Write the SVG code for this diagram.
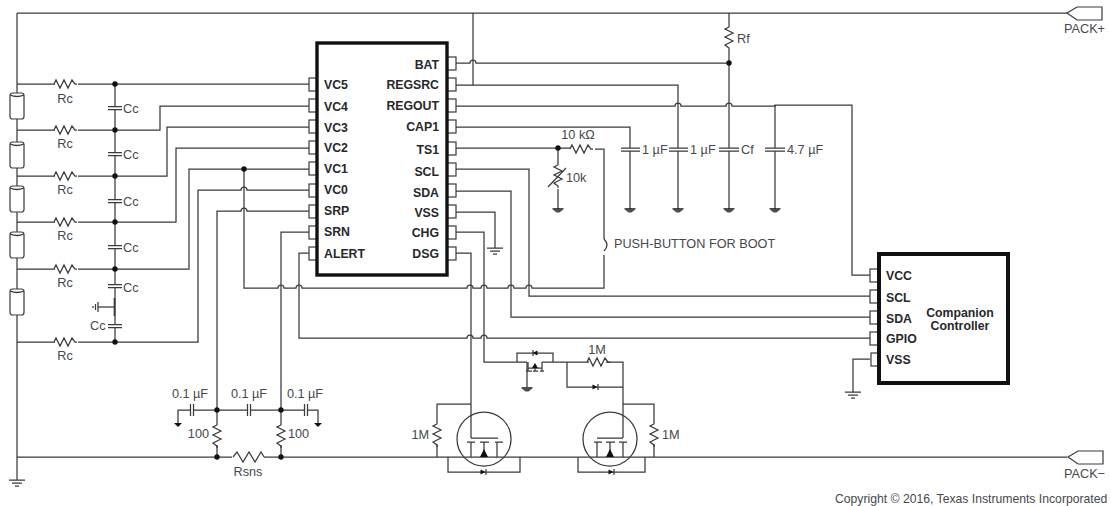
<svg xmlns="http://www.w3.org/2000/svg" width="1111" height="506" viewBox="0 0 1111 506">
<style>
text{font-family:"Liberation Sans",Arial,sans-serif;font-size:12.700px;fill:#45484c}
.b{font-weight:bold;font-size:12.300px;fill:#26282a}
.e{text-anchor:end}
.m{text-anchor:middle}
.w,.w path{fill:none;stroke:#3a3a3a;stroke-width:1.25}
.c{fill:none;stroke:#3a3a3a;stroke-width:1.25}
.f{fill:#111;stroke:none}
.pin{fill:#fff;stroke:#3a3a3a;stroke-width:1.2}
.box{fill:#fff;stroke:#111;stroke-width:3.4}
.gap{fill:#fff;stroke:none}
</style>
<defs>
<path id="rh" class="c" d="M0 0l2-4 4 8 4-8 4 8 4-8 3 4 2 0"/>
<path id="rv" class="c" d="M0 0l-4 2 8 4-8 4 8 4-8 4 4 3 0 2"/>
<circle id="dot" class="f" r="2.7"/>
<g id="cell"><rect class="pin" x="-7" y="0" width="14" height="26" rx="2.5"/><path class="c" d="M-7 2q7 3 14 0"/></g>
<g id="caph"><rect class="gap" x="-7" y="-1" width="14" height="3"/><path class="c" d="M-7 -1.500H7M-7 1.500H7"/></g>
<g id="capv"><rect class="gap" x="-1" y="-5" width="3" height="10"/><path class="c" d="M-1.500 -6V6M1.500 -6V6"/></g>
<g id="gnd3"><path class="c" d="M-8 0H8M-5 3H5M-2 6H2"/></g>
<polygon id="gnd" class="f" points="-5.500,0 5.500,0 5.500,1.200 1.500,4.500 -1.500,4.500 -5.500,1.200" fill-opacity=".75"/>
<polygon id="diode" class="f" points="-2.500,-2.500 2.500,0 -2.500,2.500"/>
<g id="pack"><polygon points="0,0 10,-6 35,-6 35,7 10,7" fill="#fff" stroke="#3a3a3a" stroke-width="1.2"/></g>
</defs>

<g id="connectors" class="w">
<path d="M17 13H1067"/>
<path d="M17 13V480"/>
<path d="M17 457H1067"/>
<path d="M17 84H55M78 84H309"/>
<path d="M17 130H55M78 130H160V106H309"/>
<path d="M17 176H55M78 176H167V127H309"/>
<path d="M17 222H55M78 222H176V148H309"/>
<path d="M17 269H55M78 269H189V169H309"/>
<path d="M17 342H55M78 342H198V190H241a3 3 0 0 1 6 0H309"/>
<path d="M115 84V342"/>
<path d="M98 307H114"/>
<path d="M309 211H247a3 3 0 0 0 -6 0H217V410"/>
<path d="M309 232H281V410"/>
<path d="M309 253H299V338H467a3 3 0 0 1 6 0H481a3 3 0 0 1 6 0H870"/>
<path d="M244 169V288H278a3 3 0 0 1 6 0H296a3 3 0 0 1 6 0H467a3 3 0 0 1 6 0H481a3 3 0 0 1 6 0H508a3 3 0 0 1 6 0H526a3 3 0 0 1 6 0H604V255"/>
<path d="M604 239V149H595"/>
<path d="M456 148H570"/>
<path d="M558 148V165M558 189V209"/>
<path d="M456 63H470a3 3 0 0 1 6 0H729"/>
<path d="M473 13V85"/>
<path d="M729 13V27M729 50V209"/>
<path d="M456 85H678V209"/>
<path d="M456 106H675a3 3 0 0 1 6 0H726a3 3 0 0 1 6 0H775V105H852V275H870"/>
<path d="M775 105V209"/>
<path d="M456 127H630V209"/>
<path d="M456 169H529V296H870"/>
<path d="M456 191H511V317H870"/>
<path d="M456 212H495V248"/>
<path d="M456 232H484V362H527"/>
<path d="M456 253H471V438"/>
<path d="M870 359H853V392"/>
<path d="M178 423V410H217H281H318V423"/>
<path d="M217 410V425M217 445V457M281 410V425M281 445V457"/>
<path d="M542 362H589M606 362H623V438"/>
<path d="M517 362V353H553V362"/>
<path d="M527 362V387"/>
<path d="M567 362V387H623"/>
<path d="M471 404H437V424M437 444V457"/>
<path d="M623 404H654V424M654 444V457"/>
<path d="M448 457V472H520V457"/>
<path d="M578 457V472H645V457"/>
</g>

<g id="cell-stack">
<use href="#cell" x="17" y="93"/><use href="#cell" x="17" y="142"/><use href="#cell" x="17" y="186"/><use href="#cell" x="17" y="232"/><use href="#cell" x="17" y="289"/>
</g>
<g id="rc-filters">
<use href="#rh" x="54" y="84"/><use href="#rh" x="54" y="130"/><use href="#rh" x="54" y="176"/><use href="#rh" x="54" y="222"/><use href="#rh" x="54" y="269"/><use href="#rh" x="54" y="342"/>
<text class="m" x="65" y="103">Rc</text><text class="m" x="65" y="148">Rc</text><text class="m" x="65" y="194">Rc</text><text class="m" x="65" y="240">Rc</text><text class="m" x="65" y="287">Rc</text><text class="m" x="65" y="360">Rc</text>
<use href="#caph" x="115" y="108"/><use href="#caph" x="115" y="154"/><use href="#caph" x="115" y="201"/><use href="#caph" x="115" y="247"/><use href="#caph" x="115" y="286"/><use href="#caph" x="115" y="326"/>
<text x="123" y="113">Cc</text><text x="123" y="159">Cc</text><text x="123" y="206">Cc</text><text x="123" y="252">Cc</text><text x="123" y="292">Cc</text><text x="90" y="330">Cc</text>
<path class="c" d="M114.500 298V316" style="stroke-width:1.7"/>
<path class="c" d="M98 302V312M95.500 304V310M93 306V308"/>
<use href="#dot" x="115" y="84"/><use href="#dot" x="115" y="130"/><use href="#dot" x="115" y="176"/><use href="#dot" x="115" y="222"/><use href="#dot" x="115" y="269"/><use href="#dot" x="115" y="342"/>
<use href="#dot" x="244" y="169"/>
</g>
<g id="gnd-main"><use href="#gnd3" x="17" y="480"/></g>

<g id="ic-main">
<g>
<rect class="pin" x="309" y="78" width="8" height="13"/><rect class="pin" x="309" y="99" width="8" height="13"/><rect class="pin" x="309" y="120" width="8" height="13"/><rect class="pin" x="309" y="141" width="8" height="13"/><rect class="pin" x="309" y="162" width="8" height="13"/><rect class="pin" x="309" y="184" width="8" height="13"/><rect class="pin" x="309" y="205" width="8" height="13"/><rect class="pin" x="309" y="226" width="8" height="13"/><rect class="pin" x="309" y="247" width="8" height="13"/>
<rect class="pin" x="447" y="57" width="9" height="13"/><rect class="pin" x="447" y="78" width="9" height="13"/><rect class="pin" x="447" y="99" width="9" height="13"/><rect class="pin" x="447" y="120" width="9" height="13"/><rect class="pin" x="447" y="142" width="9" height="13"/><rect class="pin" x="447" y="163" width="9" height="13"/><rect class="pin" x="447" y="184" width="9" height="13"/><rect class="pin" x="447" y="205" width="9" height="13"/><rect class="pin" x="447" y="226" width="9" height="13"/><rect class="pin" x="447" y="247" width="9" height="13"/>
</g>
<rect class="box" x="317" y="43" width="130" height="232"/>
<text class="b" x="324" y="89">VC5</text><text class="b" x="324" y="111">VC4</text><text class="b" x="324" y="132">VC3</text><text class="b" x="324" y="152">VC2</text><text class="b" x="324" y="173">VC1</text><text class="b" x="324" y="194">VC0</text><text class="b" x="324" y="215">SRP</text><text class="b" x="324" y="236">SRN</text><text class="b" x="324" y="258">ALERT</text>
<text class="b e" x="439" y="69">BAT</text><text class="b e" x="439" y="89">REGSRC</text><text class="b e" x="439" y="110">REGOUT</text><text class="b e" x="439" y="131">CAP1</text><text class="b e" x="439" y="154">TS1</text><text class="b e" x="439" y="176">SCL</text><text class="b e" x="439" y="197">SDA</text><text class="b e" x="439" y="217">VSS</text><text class="b e" x="439" y="237">CHG</text><text class="b e" x="439" y="258">DSG</text>
</g>

<g id="ic-companion">
<rect class="pin" x="870" y="269" width="8" height="13"/><rect class="pin" x="870" y="290" width="8" height="13"/><rect class="pin" x="870" y="311" width="8" height="13"/><rect class="pin" x="870" y="332" width="8" height="13"/><rect class="pin" x="871" y="353" width="7" height="13"/>
<rect class="box" x="879" y="254" width="129" height="129" style="stroke-width:4"/>
<text class="b" x="886" y="280">VCC</text><text class="b" x="886" y="302">SCL</text><text class="b" x="886" y="323">SDA</text><text class="b" x="886" y="343">GPIO</text><text class="b" x="886" y="364">VSS</text>
<text class="b m" x="960" y="317">Companion</text><text class="b m" x="960" y="330">Controller</text>
</g>
<g id="gnd-companion"><use href="#gnd3" x="853" y="392"/></g>
<g id="gnd-vss"><use href="#gnd3" x="495" y="248"/></g>

<g id="ts1-network">
<use href="#rh" x="570" y="149"/><use href="#dot" x="558" y="148"/>
<text class="m" x="578" y="139">10 kΩ</text>
<use href="#rv" x="558" y="165"/>
<path class="c" d="M548 187L566 168"/>
<text x="566" y="182">10k</text>
<use href="#gnd" x="558" y="208"/>
</g>
<g id="push-button">
<path class="c" d="M604 239Q610 245 604 251"/>
<text x="614" y="248">PUSH-BUTTON FOR BOOT</text>
</g>

<g id="rf"><use href="#rv" x="729" y="27"/><use href="#dot" x="729" y="63"/><text x="737" y="43">Rf</text></g>
<g id="cap-1"><path class="gap" d="M620 148h21v3h-21z"/><path class="c" d="M621 148H640M621 151H640"/><text x="642" y="154">1 µF</text><use href="#gnd" x="630" y="208"/></g>
<g id="cap-2"><path class="gap" d="M668 148h21v3h-21z"/><path class="c" d="M669 148H688M669 151H688"/><text x="690" y="154">1 µF</text><use href="#gnd" x="678" y="208"/></g>
<g id="cap-f"><path class="gap" d="M718 148h21v3h-21z"/><path class="c" d="M719 148H739M719 151H739"/><text x="741" y="154">Cf</text><use href="#gnd" x="729" y="208"/></g>
<g id="cap-47"><path class="gap" d="M765 148h21v3h-21z"/><path class="c" d="M765 148H785M765 151H785"/><text x="787" y="154">4.7 µF</text><use href="#gnd" x="775" y="208"/></g>

<g id="sense-filter">
<use href="#capv" x="192" y="410"/><use href="#capv" x="249" y="410"/><use href="#capv" x="306" y="410"/>
<text class="m" x="190" y="398">0.1 µF</text><text class="m" x="249" y="398">0.1 µF</text><text class="m" x="305" y="398">0.1 µF</text>
<polygon class="f" points="174,423 182,423 178,427"/><polygon class="f" points="314,423 322,423 318,427"/>
<use href="#rv" x="217" y="425"/><use href="#rv" x="281" y="425"/>
<text class="e" x="209" y="438">100</text><text x="288" y="438">100</text>
<use href="#dot" x="217" y="410"/><use href="#dot" x="281" y="410"/><use href="#dot" x="217" y="457"/><use href="#dot" x="281" y="457"/>
</g>
<g id="rsns">
<rect class="gap" x="232" y="455" width="32" height="4"/>
<path class="c" d="M233 457l4 -5 6 10 6 -10 6 10 6 -10 3 5"/>
<text class="m" x="248" y="476">Rsns</text>
</g>

<g id="fet-dsg">
<circle class="c" cx="484" cy="439" r="27"/>
<path class="c" d="M471 438H498M467 442H475M480 442H489M495 442H503M471 442V457M484 442V457M497 442V457"/>
<polygon class="f" points="484,449 480,457 488,457"/>
<use href="#rv" x="437" y="424"/>
<text class="e" x="429" y="439">1M</text>
<use href="#diode" x="483" y="472"/><path class="c" d="M486 469V475"/>
</g>
<g id="fet-chg">
<circle class="c" cx="610" cy="439" r="27"/>
<path class="c" d="M597 438H623M594 442H602M606 442H615M619 442H627M597 442V457M610 442V457M623 442V457"/>
<polygon class="f" points="610,449 606,457 614,457"/>
<use href="#rv" x="654" y="424"/>
<text x="662" y="439">1M</text>
<use href="#diode" x="611" y="472"/><path class="c" d="M614 469V475"/>
</g>
<g id="fet-small">
<path class="c" d="M528 368H542M526 371H532M533 371H538M540 371H544M528 362V371M542 362V371"/>
<polygon class="f" points="535,363 532,368 538,368"/>
<path class="c" d="M535 368V371"/>
<use href="#diode" x="535" y="353" transform="rotate(180 535 353)"/><path class="c" d="M533 350V356"/>
<use href="#gnd" x="527" y="387"/>
</g>
<g id="gate-network">
<use href="#rh" x="587" y="362"/>
<text class="m" x="597" y="354">1M</text>
<use href="#diode" x="595" y="387"/><path class="c" d="M598 384V390"/>
</g>

<g id="pack-plus"><use href="#pack" x="1067" y="13"/><text x="1064" y="33">PACK+</text></g>
<g id="pack-minus"><use href="#pack" x="1068" y="457"/><text x="1064" y="478">PACK−</text></g>
<text id="copyright" x="835" y="503" style="font-size:12.200px">Copyright © 2016, Texas Instruments Incorporated</text>
</svg>
